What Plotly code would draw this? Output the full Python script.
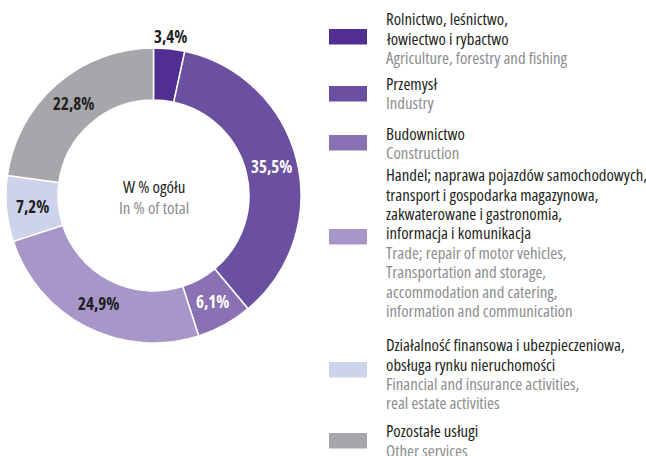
import math
import plotly.graph_objects as go

# Gross value added structure by sector (% of total)
sector_values = [3.4, 35.5, 6.1, 24.9, 7.2, 22.8]
sector_colors = ["#512E91", "#6B50A1", "#8A71B4", "#A796C8", "#CCD3EA", "#A6A7AB"]
label_colors = ["#231F20", "#FFFFFF", "#FFFFFF", "#231F20", "#231F20", "#231F20"]
label_outside = [True, False, False, False, False, False]

legend_pl = [
    ["Rolnictwo, leśnictwo,", "łowiectwo i rybactwo"],
    ["Przemysł"],
    ["Budownictwo"],
    ["Handel; naprawa pojazdów samochodowych,", "transport i gospodarka magazynowa,",
     "zakwaterowane i gastronomia,", "informacja i komunikacja"],
    ["Działalność finansowa i ubezpieczeniowa,", "obsługa rynku nieruchomości"],
    ["Pozostałe usługi"],
]
legend_en = [
    ["Agriculture, forestry and fishing"],
    ["Industry"],
    ["Construction"],
    ["Trade; repair of motor vehicles,", "Transportation and storage,",
     "accommodation and catering,", "information and communication"],
    ["Financial and insurance activities,", "real estate activities"],
    ["Other services"],
]

center_pl = "W % ogółu"
center_en = "In % of total"

# ---- layout (pixels) ----
W, H = 646, 456
CX, CY, R_OUT, R_IN = 153.5, 195.5, 147.5, 95.5
FONT = "Open Sans"
DARK, GRAY = "#231F20", "#8C8D8F"
LEG_FS, LINE_STEP = 16.8, 19.4
CENTER_FS, LABEL_FS = 17, 17
LEG_TEXT_X, SW_X0, SW_X1, SW_H = 385, 329, 367, 15.5
first_baselines = [25, 89.3, 139.3, 180.7, 350.7, 437]
swatch_tops = [29, 86, 135, 229, 362, 433]
BASE_SHIFT = 0.36  # baseline -> text-box middle, in em


def px(x):
    return x / W


def py(y):
    return 1 - y / H


def narrow(t, bold=False):
    s = f'<span style="font-stretch:75%">{t}</span>'
    return f"<b>{s}</b>" if bold else s


fig = go.Figure(go.Pie(
    values=sector_values,
    marker=dict(colors=sector_colors, line=dict(color="white", width=1.5)),
    hole=R_IN / R_OUT,
    sort=False,
    direction="clockwise",
    rotation=0,
    textinfo="none",
    hoverinfo="skip",
    showlegend=False,
    domain=dict(x=[px(CX - R_OUT), px(CX + R_OUT)],
                y=[py(CY + R_OUT), py(CY - R_OUT)]),
))

annotations = []

# slice value labels at the middle angle of each slice
total = sum(sector_values)
cum = 0.0
for v, col, outside in zip(sector_values, label_colors, label_outside):
    ang = (cum + v / 2) / total * 2 * math.pi
    cum += v
    r = R_OUT + 12 if outside else (R_IN + R_OUT) / 2
    x = CX + r * math.sin(ang)
    y = CY - r * math.cos(ang)
    annotations.append(dict(
        x=px(x), y=py(y), xref="paper", yref="paper", showarrow=False,
        text=narrow(f"{v:.1f}".replace(".", ",") + "%", bold=True),
        font=dict(family=FONT, size=LABEL_FS, color=col),
        xanchor="center", yanchor="middle",
    ))

# centre caption
for txt, col, base in [(center_pl, DARK, 192.7), (center_en, GRAY, 214)]:
    annotations.append(dict(
        x=px(CX), y=py(base - BASE_SHIFT * CENTER_FS), xref="paper", yref="paper",
        showarrow=False, text=narrow(txt),
        font=dict(family=FONT, size=CENTER_FS, color=col),
        xanchor="center", yanchor="middle",
    ))

# legend: swatches and two-language labels
shapes = []
for i, (pl, en) in enumerate(zip(legend_pl, legend_en)):
    top = swatch_tops[i]
    shapes.append(dict(
        type="rect", xref="paper", yref="paper",
        x0=px(SW_X0), x1=px(SW_X1), y0=py(top + SW_H), y1=py(top),
        fillcolor=sector_colors[i], line=dict(width=0),
    ))
    lines = [(t, DARK) for t in pl] + [(t, GRAY) for t in en]
    for k, (t, col) in enumerate(lines):
        base = first_baselines[i] + k * LINE_STEP
        annotations.append(dict(
            x=px(LEG_TEXT_X), y=py(base - BASE_SHIFT * LEG_FS), xref="paper", yref="paper",
            showarrow=False, text=narrow(t), font=dict(family=FONT, size=LEG_FS, color=col),
            xanchor="left", yanchor="middle", xshift=-1,
        ))

fig.update_layout(
    width=W, height=H,
    margin=dict(l=0, r=0, t=0, b=0),
    paper_bgcolor="white", plot_bgcolor="white",
    annotations=annotations, shapes=shapes,
)

fig.write_html("out.html")
